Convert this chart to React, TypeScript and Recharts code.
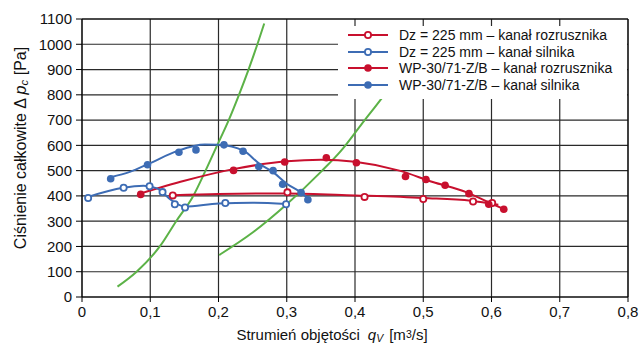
import { ComposedChart, Line, Scatter, XAxis, YAxis, CartesianGrid } from 'recharts';

const RED = '#c8102e';
const BLUE = '#3d6cb4';
const GREEN = '#5cb247';
const FONT = '"Liberation Sans", Arial, Helvetica, sans-serif';

const X_TICKS = [0, 0.1, 0.2, 0.3, 0.4, 0.5, 0.6, 0.7, 0.8];
const Y_TICKS = [0, 100, 200, 300, 400, 500, 600, 700, 800, 900, 1000, 1100];

// punkty pomiarowe [qV, dp]
const dzRozPts = [[0.133, 402], [0.301, 414], [0.414, 396], [0.5, 388], [0.573, 378], [0.601, 372]];
const dzSilPts = [[0.009, 392], [0.061, 432], [0.099, 438], [0.118, 415], [0.136, 367], [0.151, 354], [0.21, 372], [0.299, 367]];
const wpRozPts = [[0.086, 406], [0.222, 501], [0.297, 534], [0.358, 551], [0.402, 531], [0.474, 477], [0.504, 465], [0.532, 442], [0.567, 409], [0.596, 367], [0.618, 347]];
const wpSilPts = [[0.042, 468], [0.096, 523], [0.142, 573], [0.167, 582], [0.208, 602], [0.236, 577], [0.259, 516], [0.28, 500], [0.294, 446], [0.321, 413], [0.331, 385]];

// linie trendu
const dzRozFit = [[0.133, 403], [0.2, 408], [0.3, 410], [0.4, 402], [0.5, 392], [0.57, 381], [0.61, 365]];
const dzSilFit = [[0.009, 396], [0.06, 432], [0.09, 440], [0.11, 430], [0.13, 385], [0.15, 358], [0.2, 370], [0.25, 373], [0.3, 368]];
const wpRozFit = [[0.086, 410], [0.15, 460], [0.22, 505], [0.3, 537], [0.35, 543], [0.4, 535], [0.465, 500], [0.514, 455], [0.563, 415], [0.593, 378], [0.618, 348]];
const wpSilFit = [[0.042, 474], [0.07, 495], [0.1, 530], [0.14, 578], [0.18, 603], [0.2, 602], [0.237, 578], [0.26, 527], [0.28, 494], [0.3, 448], [0.321, 413], [0.331, 390]];

// charakterystyki sieci
const net1 = [[0.052, 41], [0.08, 100], [0.114, 200], [0.138, 300], [0.163, 400], [0.181, 500], [0.198, 600], [0.215, 700], [0.23, 800], [0.244, 900], [0.257, 1000], [0.267, 1082]];
const net2 = [[0.201, 166], [0.25, 255], [0.3, 367], [0.35, 495], [0.38, 580], [0.41, 685], [0.441, 793], [0.47, 900]];

const LEGEND = [
  { label: 'Dz = 225 mm – kanał rozrusznika', color: RED, open: true },
  { label: 'Dz = 225 mm – kanał silnika', color: BLUE, open: true },
  { label: 'WP-30/71-Z/B – kanał rozrusznika', color: RED, open: false },
  { label: 'WP-30/71-Z/B – kanał silnika', color: BLUE, open: false },
];

const pts = (a: number[][]) => a.map(([x, y]) => ({ x, y }));
const fmtX = (v: number) => (v === 0 ? '0' : v.toFixed(1).replace('.', ','));

const openDot = (color: string) => (p: any) => (
  <circle cx={p.cx} cy={p.cy} r={3.1} fill="#fff" stroke={color} strokeWidth={1.8} />
);
const fullDot = (color: string) => (p: any) => <circle cx={p.cx} cy={p.cy} r={3.8} fill={color} />;

// tytuł osi Y - środek przy x=20, y=148
const YTitle = () => (
  <text x={20} y={148} transform="rotate(-90, 20, 148)" textAnchor="middle" dominantBaseline="central"
    fontSize={16} fontFamily={FONT} fill="#111">
    Ciśnienie całkowite Δ <tspan fontStyle="italic">p</tspan>
    <tspan fontStyle="italic" fontSize={11.5} dy={4}>c</tspan>
    <tspan dy={-4}> [Pa]</tspan>
  </text>
);

const XTitle = ({ viewBox }: any) => {
  const cx = viewBox.x + viewBox.width / 2 - 23;
  const y = viewBox.y + 43;
  return (
    <text x={cx} y={y} textAnchor="middle" fontSize={15} fontFamily={FONT} fill="#111">
      Strumień objętości
      <tspan dx={8} fontStyle="italic">q</tspan>
      <tspan fontStyle="italic" fontSize={10.5} dy={2}>V</tspan>
      <tspan dy={-2} dx={6}>[m</tspan>
      <tspan fontSize={10.5} dy={-2}>3</tspan>
      <tspan dy={2}>/s]</tspan>
    </text>
  );
};

function Legenda() {
  return (
    <div style={{ position: 'absolute', left: 338, top: 26, width: 289, height: 72, background: '#fff', paddingTop: 1 }}>
      {LEGEND.map((it) => (
        <div key={it.label} style={{ display: 'flex', alignItems: 'center', height: 16.6 }}>
          <svg width={52} height={12} style={{ flex: 'none' }}>
            <line x1={10} x2={50} y1={6} y2={6} stroke={it.color} strokeWidth={2} />
            {it.open
              ? <circle cx={30} cy={6} r={3.1} fill="#fff" stroke={it.color} strokeWidth={1.8} />
              : <circle cx={30} cy={6} r={3.8} fill={it.color} />}
          </svg>
          <span style={{ marginLeft: 9, fontSize: 14, fontFamily: FONT, color: '#111', whiteSpace: 'nowrap' }}>{it.label}</span>
        </div>
      ))}
    </div>
  );
}

export default function App() {
  const tick = { fontSize: 15, fill: '#111', fontFamily: FONT };
  return (
    <div style={{ position: 'absolute', left: 0, top: 0, width: 641, height: 348, background: '#fff' }}>
      <ComposedChart width={641} height={348} margin={{ top: 13, right: 8, left: 8, bottom: 11 }}>
        <CartesianGrid stroke="#2a2a2a" strokeWidth={1.2} />
        <XAxis dataKey="x" type="number" domain={[0, 0.8]} ticks={X_TICKS} tickFormatter={fmtX} tick={tick}
          tickSize={5} tickMargin={4} height={40} stroke="#000" label={<XTitle />} />
        <XAxis xAxisId="top" orientation="top" type="number" domain={[0, 0.8]} ticks={X_TICKS} tickFormatter={() => ''}
          tickSize={4} height={6} stroke="#000" />
        <YAxis dataKey="y" type="number" domain={[0, 1100]} ticks={Y_TICKS} tick={tick} tickSize={6} tickMargin={4}
          width={74} stroke="#000" interval={0} label={<YTitle />} />
        <YAxis yAxisId="right" orientation="right" type="number" domain={[0, 1100]} ticks={Y_TICKS}
          tickFormatter={() => ''} tickSize={4} width={5} stroke="#000" />

        <Line data={pts(net1)} dataKey="y" type="monotone" stroke={GREEN} strokeWidth={2} dot={false} isAnimationActive={false} />
        <Line data={pts(net2)} dataKey="y" type="monotone" stroke={GREEN} strokeWidth={2} dot={false} isAnimationActive={false} />

        <Line data={pts(dzRozFit)} dataKey="y" type="monotone" stroke={RED} strokeWidth={2} dot={false} isAnimationActive={false} />
        <Line data={pts(wpRozFit)} dataKey="y" type="monotone" stroke={RED} strokeWidth={2} dot={false} isAnimationActive={false} />
        <Line data={pts(dzSilFit)} dataKey="y" type="monotone" stroke={BLUE} strokeWidth={2} dot={false} isAnimationActive={false} />
        <Line data={pts(wpSilFit)} dataKey="y" type="monotone" stroke={BLUE} strokeWidth={2} dot={false} isAnimationActive={false} />

        <Scatter data={pts(dzRozPts)} shape={openDot(RED)} isAnimationActive={false} />
        <Scatter data={pts(wpRozPts)} shape={fullDot(RED)} isAnimationActive={false} />
        <Scatter data={pts(dzSilPts)} shape={openDot(BLUE)} isAnimationActive={false} />
        <Scatter data={pts(wpSilPts)} shape={fullDot(BLUE)} isAnimationActive={false} />
      </ComposedChart>
      <Legenda />
    </div>
  );
}
